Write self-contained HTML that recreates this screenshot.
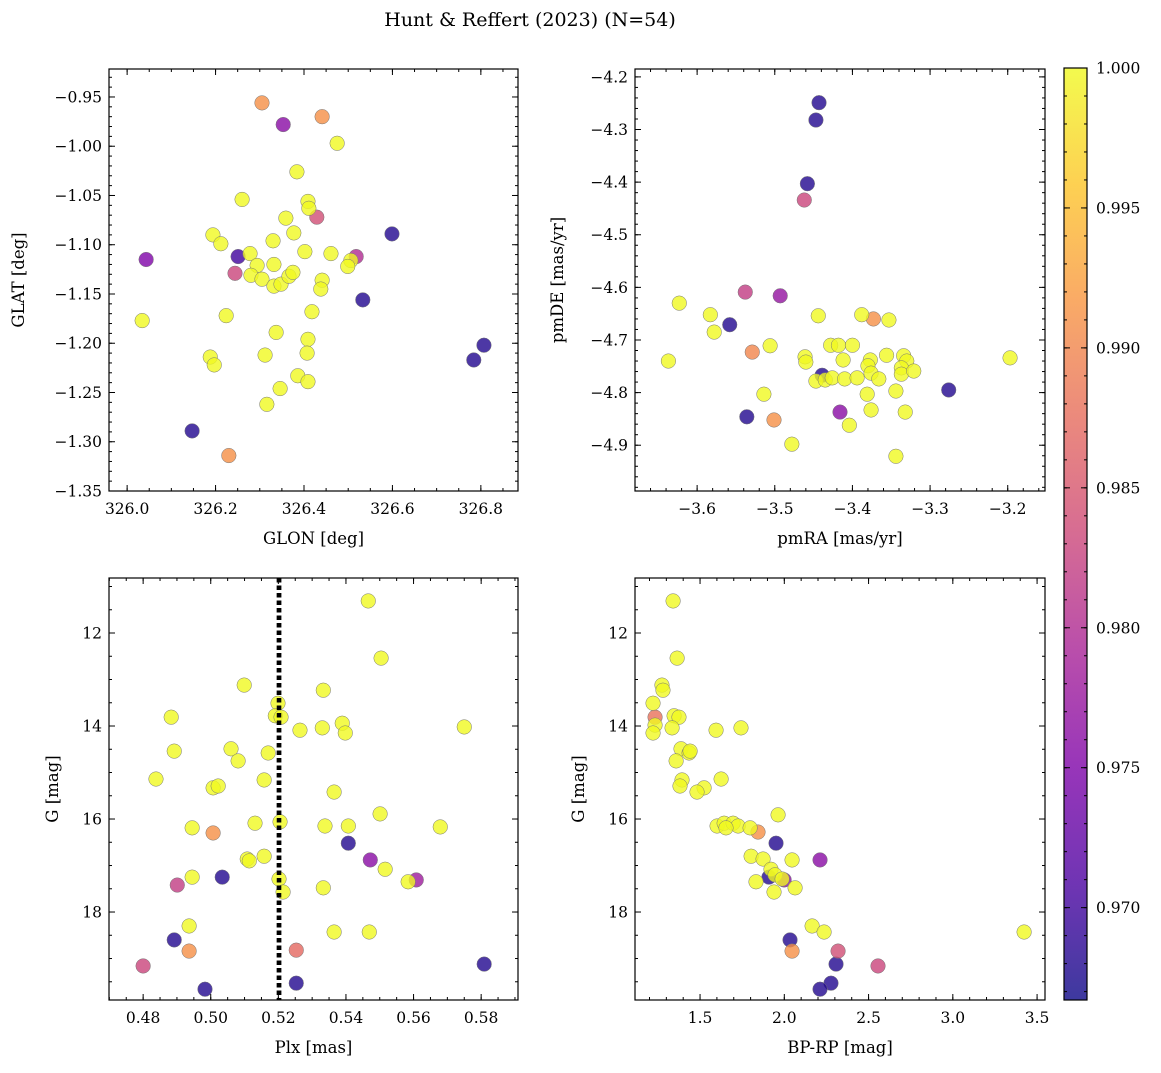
<!DOCTYPE html>
<html><head><meta charset="utf-8">
<style>
body{margin:0;background:#fff;}
svg text{font-family:"DejaVu Serif","Liberation Serif",serif;fill:#000;}
</style></head>
<body>
<svg id="fig" width="1161" height="1068" xmlns="http://www.w3.org/2000/svg">
<defs>
<linearGradient id="cmap" x1="0" y1="1" x2="0" y2="0">
<stop offset="0" stop-color="#0d0887"/><stop offset="0.125" stop-color="#4c02a1"/><stop offset="0.25" stop-color="#7e03a8"/><stop offset="0.375" stop-color="#a82296"/><stop offset="0.5" stop-color="#cc4778"/><stop offset="0.625" stop-color="#e66c5c"/><stop offset="0.75" stop-color="#f89540"/><stop offset="0.875" stop-color="#fdc527"/><stop offset="1" stop-color="#f0f921"/>
</linearGradient>
</defs>
<text x="530" y="26" font-size="19" text-anchor="middle">Hunt &amp; Reffert (2023) (N=54)</text>
</svg>
<script>
// Panel 1: GLON / GLAT
const p1Glon=[326.305,326.353,326.441,326.475,326.384,326.260,326.409,326.411,326.359,326.429,326.194,326.377,326.599,326.212,326.330,326.043,326.251,326.402,326.461,326.518,326.506,326.499,326.278,326.294,326.332,326.244,326.280,326.305,326.332,326.348,326.366,326.375,326.441,326.438,326.533,326.034,326.224,326.418,326.337,326.188,326.197,326.312,326.409,326.407,326.386,326.409,326.346,326.316,326.784,326.807,326.147,326.230];
const p1Glat=[-0.956,-0.978,-0.970,-0.997,-1.026,-1.054,-1.056,-1.063,-1.073,-1.072,-1.090,-1.088,-1.089,-1.099,-1.096,-1.115,-1.112,-1.107,-1.109,-1.112,-1.116,-1.122,-1.109,-1.121,-1.120,-1.129,-1.131,-1.135,-1.142,-1.140,-1.132,-1.128,-1.136,-1.145,-1.156,-1.177,-1.172,-1.168,-1.189,-1.214,-1.222,-1.212,-1.196,-1.210,-1.233,-1.239,-1.246,-1.262,-1.217,-1.202,-1.289,-1.314];
const p1Prob=[0.991,0.976,0.991,1,1,1,1,1,1,0.984,1,1,0.968,1,1,0.975,0.970,1,1,0.980,1,1,1,1,1,0.983,1,1,1,1,1,1,1,1,0.968,1,1,1,1,1,1,1,1,1,1,1,1,1,0.968,0.968,0.968,0.991];
// Panel 2: pmRA / pmDE
const p2PmRA=[-3.443,-3.447,-3.458,-3.462,-3.538,-3.493,-3.623,-3.583,-3.578,-3.558,-3.444,-3.388,-3.373,-3.353,-3.529,-3.506,-3.428,-3.418,-3.400,-3.637,-3.461,-3.460,-3.412,-3.377,-3.356,-3.334,-3.330,-3.197,-3.380,-3.376,-3.337,-3.337,-3.321,-3.439,-3.447,-3.435,-3.426,-3.410,-3.366,-3.394,-3.514,-3.381,-3.344,-3.276,-3.416,-3.376,-3.332,-3.404,-3.536,-3.501,-3.478,-3.344];
const p2PmDE=[-4.249,-4.282,-4.403,-4.434,-4.609,-4.616,-4.630,-4.652,-4.685,-4.671,-4.654,-4.652,-4.660,-4.662,-4.723,-4.711,-4.710,-4.710,-4.710,-4.740,-4.732,-4.742,-4.738,-4.738,-4.729,-4.730,-4.740,-4.734,-4.749,-4.763,-4.753,-4.765,-4.759,-4.767,-4.778,-4.776,-4.772,-4.774,-4.774,-4.772,-4.803,-4.803,-4.797,-4.795,-4.837,-4.833,-4.837,-4.862,-4.846,-4.852,-4.898,-4.921];
const p2Prob=[0.968,0.968,0.968,0.983,0.982,0.977,1,1,1,0.968,1,1,0.991,1,0.990,1,1,1,1,1,1,1,1,1,1,1,1,1,1,1,1,1,1,0.968,1,1,1,1,1,1,1,1,1,0.968,0.976,1,1,1,0.968,0.991,1,1];
// Panel 3: Plx / G
const p3Plx=[0.5466,0.5504,0.5333,0.5099,0.4883,0.5199,0.5191,0.5208,0.5264,0.5330,0.5389,0.5398,0.5750,0.4892,0.5060,0.5081,0.5170,0.4838,0.5158,0.5007,0.5022,0.5365,0.5501,0.4945,0.5007,0.5131,0.5205,0.5338,0.5407,0.5679,0.5407,0.5108,0.5114,0.5158,0.5472,0.5516,0.4945,0.5034,0.5202,0.5214,0.5584,0.5608,0.4901,0.5333,0.4936,0.5365,0.5469,0.4892,0.4936,0.5253,0.4800,0.5809,0.5253,0.4983];
const p3G=[11.31,12.54,13.23,13.12,13.81,13.51,13.78,13.81,14.09,14.04,13.94,14.15,14.02,14.54,14.49,14.75,14.58,15.14,15.16,15.33,15.29,15.42,15.89,16.19,16.30,16.09,16.06,16.15,16.15,16.17,16.52,16.86,16.90,16.80,16.88,17.08,17.25,17.25,17.29,17.57,17.35,17.31,17.42,17.48,18.30,18.43,18.43,18.60,18.84,18.82,19.16,19.12,19.53,19.66];
const p3Prob=[1,1,1,1,1,1,1,1,1,1,1,1,1,1,1,1,1,1,1,1,1,1,1,1,0.991,1,1,1,1,1,0.968,1,1,1,0.976,1,1,0.968,1,1,1,0.978,0.982,1,1,1,1,0.968,0.991,0.987,0.983,0.968,0.968,0.968];
const plxLine=0.5202;
// Panel 4: BP-RP / G
const p4Bprp=[1.340,1.364,1.274,1.280,1.221,1.233,1.346,1.375,1.233,1.221,1.334,1.595,1.743,1.387,1.435,1.441,1.358,1.393,1.381,1.625,1.524,1.482,1.963,1.601,1.643,1.696,1.726,1.654,1.797,1.844,1.951,1.803,1.874,2.046,2.212,1.921,1.945,1.987,1.909,1.999,1.832,1.939,2.064,2.165,2.236,3.423,2.034,2.046,2.319,2.307,2.556,2.277,2.212];
const p4G=[11.31,12.54,13.12,13.23,13.51,13.81,13.78,13.81,13.98,14.15,14.04,14.09,14.04,14.49,14.58,14.54,14.75,15.16,15.29,15.14,15.33,15.42,15.91,16.15,16.09,16.09,16.15,16.19,16.19,16.28,16.52,16.80,16.86,16.88,16.88,17.08,17.20,17.29,17.25,17.31,17.35,17.57,17.48,18.30,18.43,18.43,18.60,18.84,18.84,19.12,19.16,19.53,19.66];
const p4Prob=[1,1,1,1,1,0.988,1,1,1,1,1,1,1,1,1,1,1,1,1,1,1,1,1,1,1,1,1,1,1,0.991,0.968,1,1,1,0.976,1,1,1,0.968,0.976,1,1,1,1,1,1,0.968,0.991,0.984,0.968,0.983,0.968,0.968];
const cbTicks=[0.970,0.975,0.980,0.985,0.990,0.995,1.000];
const cbMin=0.9667, cbMax=1.0;

const NS="http://www.w3.org/2000/svg";
const svg=document.getElementById('fig');
function mk(tag,attrs,parent){const e=document.createElementNS(NS,tag);for(const k in attrs)e.setAttribute(k,attrs[k]);(parent||svg).appendChild(e);return e;}
const stops=[[0,[13,8,135]],[0.125,[76,2,161]],[0.25,[126,3,168]],[0.375,[168,34,150]],[0.5,[204,71,120]],[0.625,[230,108,92]],[0.75,[248,149,64]],[0.875,[253,197,39]],[1,[240,249,33]]];
function cmap(v){let t=(v-cbMin)/(cbMax-cbMin);t=Math.max(0,Math.min(1,t));for(let i=1;i<stops.length;i++){if(t<=stops[i][0]){const a=stops[i-1],b=stops[i];const f=(t-a[0])/(b[0]-a[0]);const c=a[1].map((x,j)=>Math.round(x+(b[1][j]-x)*f));return `rgb(${c[0]},${c[1]},${c[2]})`;}}return 'rgb(240,249,33)';}

function panel(cfg){
  const {name,x0,x1,y0,y1,xmin,xmax,ymin,ymax,invY,xMaj,xMin,yMaj,yMin,xFmt,yFmt,xLabel,yLabel,xs,ys,ps}=cfg;
  const sx=v=>x0+(v-xmin)/(xmax-xmin)*(x1-x0);
  const sy=invY?(v=>y0+(v-ymin)/(ymax-ymin)*(y1-y0)):(v=>y1-(v-ymin)/(ymax-ymin)*(y1-y0));
  const g=mk('g',{});
  
  
  const eps=1e-9;
  function ticksX(step,len,lab){const s=Math.ceil(xmin/step-eps);for(let i=s;i*step<=xmax+eps;i++){const v=i*step;const x=sx(v);mk('line',{x1:x,x2:x,y1:y1,y2:y1-len,stroke:'#000','stroke-width':1},g);mk('line',{x1:x,x2:x,y1:y0,y2:y0+len,stroke:'#000','stroke-width':1},g);if(lab){const t=mk('text',{x:x,y:y1+23,'font-size':15.5,'text-anchor':'middle'},g);t.textContent=xFmt(v);}}}
  function ticksY(step,len,lab){const s=Math.ceil(Math.min(ymin,ymax)/step-eps);const hi=Math.max(ymin,ymax);for(let i=s;i*step<=hi+eps;i++){const v=i*step;const y=sy(v);mk('line',{x1:x0,x2:x0+len,y1:y,y2:y,stroke:'#000','stroke-width':1},g);mk('line',{x1:x1,x2:x1-len,y1:y,y2:y,stroke:'#000','stroke-width':1},g);if(lab){const t=mk('text',{x:x0-7,y:y+5.5,'font-size':15.5,'text-anchor':'end'},g);t.textContent=yFmt(v);}}}
  const clip='clip-'+name;
  const cp=mk('clipPath',{id:clip},g);mk('rect',{x:x0,y:y0,width:x1-x0,height:y1-y0},cp);
  const pts=mk('g',{'clip-path':`url(#${clip})`},g);
  
  
  if(cfg.vline!==undefined){const l=mk('line',{x1:sx(cfg.vline),x2:sx(cfg.vline),y1:y0,y2:y1,stroke:'#000','stroke-width':4.5,'stroke-dasharray':'4.5,3'},pts);}
  const order=xs.map((_,i)=>i).sort((a,b)=>ps[a]-ps[b]);
  for(const i of order){const c=mk('circle',{cx:sx(xs[i]),cy:sy(ys[i]),r:7.3,fill:cmap(ps[i]),'fill-opacity':0.8,stroke:'#777','stroke-width':0.5},pts);}
  if(cfg.vline!==undefined){const l=mk('line',{x1:sx(cfg.vline),x2:sx(cfg.vline),y1:y0,y2:y1,stroke:'#000','stroke-width':4.5,'stroke-dasharray':'4.5,3'},pts);}
  mk('rect',{x:x0,y:y0,width:x1-x0,height:y1-y0,fill:'none',stroke:'#000','stroke-width':1.2},g);
  ticksX(xMin,3,false);ticksX(xMaj,6,true);ticksY(yMin,3,false);ticksY(yMaj,6,true);
  const xl=mk('text',{x:(x0+x1)/2,y:y1+53,'font-size':16.5,'text-anchor':'middle'},g);xl.textContent=xLabel;
  
  const lx=cfg.yLabelX, ly=(y0+y1)/2;
  const yl=mk('text',{x:lx,y:ly,'font-size':16.5,'text-anchor':'middle',transform:`rotate(-90 ${lx} ${ly})`},g);yl.textContent=yLabel;
  
}
const f=(d)=>v=>(Math.abs(v)<1e-9?0:v).toFixed(d).replace('-','\u2212');
panel({name:'glon-glat-panel',x0:109,x1:518,y0:69,y1:491,xmin:325.959,xmax:326.884,ymin:-1.35,ymax:-0.9216,xMaj:0.2,xMin:0.05,yMaj:0.05,yMin:0.01,xFmt:f(1),yFmt:f(2),xLabel:'GLON [deg]',yLabel:'GLAT [deg]',yLabelX:24,xs:p1Glon,ys:p1Glat,ps:p1Prob});
panel({name:'proper-motion-panel',x0:635,x1:1045,y0:69,y1:491,xmin:-3.680,xmax:-3.152,ymin:-4.987,ymax:-4.185,xMaj:0.1,xMin:0.02,yMaj:0.1,yMin:0.02,xFmt:f(1),yFmt:f(1),xLabel:'pmRA [mas/yr]',yLabel:'pmDE [mas/yr]',yLabelX:563,xs:p2PmRA,ys:p2PmDE,ps:p2Prob});
panel({name:'parallax-magnitude-panel',x0:109,x1:518,y0:578,y1:1000,xmin:0.4699,xmax:0.5909,ymin:10.817,ymax:19.892,invY:true,xMaj:0.02,xMin:0.005,yMaj:2,yMin:0.5,xFmt:f(2),yFmt:f(0),xLabel:'Plx [mas]',yLabel:'G [mag]',yLabelX:58,xs:p3Plx,ys:p3G,ps:p3Prob,vline:plxLine});
panel({name:'color-magnitude-panel',x0:635,x1:1045,y0:578,y1:1000,xmin:1.114,xmax:3.547,ymin:10.817,ymax:19.892,invY:true,xMaj:0.5,xMin:0.1,yMaj:2,yMin:0.5,xFmt:f(1),yFmt:f(0),xLabel:'BP-RP [mag]',yLabel:'G [mag]',yLabelX:584,xs:p4Bprp,ys:p4G,ps:p4Prob});

// colorbar
const cb=mk('g',{});


const cbx0=1064,cbx1=1087,cby0=68,cby1=1000;
mk('rect',{x:cbx0,y:cby0,width:cbx1-cbx0,height:cby1-cby0,fill:'url(#cmap)','fill-opacity':0.8},cb);
mk('rect',{x:cbx0,y:cby0,width:cbx1-cbx0,height:cby1-cby0,fill:'none',stroke:'#000','stroke-width':1.2},cb);
const cy=v=>cby1-(v-cbMin)/(cbMax-cbMin)*(cby1-cby0);
for(let i=967;i<=1000;i++){const y=cy(i/1000);mk('line',{x1:cbx1,x2:cbx1-3,y1:y,y2:y,stroke:'#000'},cb);mk('line',{x1:cbx0,x2:cbx0+3,y1:y,y2:y,stroke:'#000'},cb);}
for(const v of cbTicks){const y=cy(v);mk('line',{x1:cbx1,x2:cbx1-6,y1:y,y2:y,stroke:'#000'},cb);mk('line',{x1:cbx0,x2:cbx0+6,y1:y,y2:y,stroke:'#000'},cb);const t=mk('text',{x:cbx1+9,y:y+5.5,'font-size':15.5},cb);t.textContent=v.toFixed(3);}
</script>
</body></html>
